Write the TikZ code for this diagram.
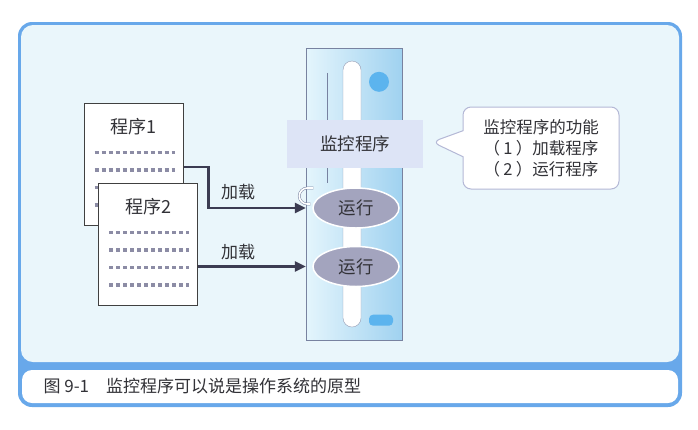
\documentclass[tikz,border=0pt]{standalone}
\usepackage{fontspec}
\setmainfont{Noto Sans CJK SC}
\usetikzlibrary{positioning,shapes.geometric,shapes.callouts,arrows.meta}
\definecolor{framecolor}{RGB}{104,168,234}
\definecolor{panelcolor}{RGB}{234,246,251}
\definecolor{rackleft}{RGB}{228,245,252}
\definecolor{rackright}{RGB}{160,210,240}
\definecolor{rackline}{RGB}{120,130,160}
\definecolor{monfill}{RGB}{221,228,246}
\definecolor{runfill}{RGB}{163,164,190}
\definecolor{dotcolor}{RGB}{140,140,165}
\definecolor{arrowcolor}{RGB}{60,60,82}
\definecolor{lampcolor}{RGB}{92,180,238}
\definecolor{textcolor}{RGB}{50,50,55}
\definecolor{calloutline}{RGB}{180,184,214}
\tikzstyle{progbox} = [rectangle, draw=black!75, fill=white, line width=1pt, minimum width=99pt, minimum height=122pt, inner sep=0pt]
\tikzstyle{monbox} = [rectangle, fill=monfill, minimum width=136pt, minimum height=48pt, text=textcolor, font=\fontsize{17.5}{20}\selectfont]
\tikzstyle{runnode} = [ellipse, draw=white, line width=1.5pt, fill=runfill, minimum width=86pt, minimum height=40pt, inner sep=0pt, text=textcolor, font=\fontsize{17.5}{20}\selectfont]
\tikzstyle{dotrow} = [dotcolor, line width=3.5pt, dash pattern=on 4pt off 3pt]
\tikzstyle{arrow} = [arrowcolor, line width=2.5pt, -{Triangle[length=11pt,width=10pt]}]
\tikzstyle{loadlabel} = [text=textcolor, font=\fontsize{17}{20}\selectfont]
\tikzstyle{title} = [anchor=north, text=textcolor, font=\fontsize{18}{20}\selectfont]

\begin{document}
\begin{tikzpicture}[x=1pt, y=-1pt]
\useasboundingbox (0,0) rectangle (698,429);

% frame and caption strip
\fill[framecolor, rounded corners=14pt] (18,22) rectangle (682,407);
\fill[panelcolor, rounded corners=12pt] (21,25) rectangle (679,362);
\fill[white, rounded corners=10pt] (22,370) rectangle (678,403);
\node (caption) [anchor=west, text=textcolor, font=\fontsize{17}{18}\selectfont] at (40,386) {图 9-1\quad 监控程序可以说是操作系统的原型};

% the machine
\node (rack) [rectangle, draw=rackline, left color=rackleft, right color=rackright, minimum width=96pt, minimum height=292pt] at (354,194) {};
\node (slot) [rectangle, rounded corners=9pt, draw=rackline!80, fill=white, minimum width=18pt, minimum height=266pt] at (352,194) {};
\draw[rackline, line width=0.8pt] ([shift={(-25,12)}]slot.north) -- ++(0,110);
\node (lamp) [circle, fill=lampcolor, minimum size=20pt, inner sep=0pt] at ([shift={(25,34)}]rack.north) {};
\node (pill) [rectangle, rounded corners=4pt, fill=lampcolor, minimum width=24pt, minimum height=11pt] at ([shift={(27,-20)}]rack.south) {};

\node (mon) [monbox] at (355,144) {监控程序};
\node (run1) [runnode] at (356,208) {运行};
\node (run2) [runnode, below=17pt of run1] {运行};
\draw[rackline, double=white, double distance=1.6pt, line width=0.5pt] ([shift={(1,-20)}]run1.west) -- ++(-6,0) arc[start angle=270, end angle=90, radius=8] -- ++(3,0);

% programs
\node (prog1) [progbox] at (133.5,164) {};
\node (title1) [title] at ([yshift=-12]prog1.north) {程序1};
\foreach \k in {0,...,3}
  \draw[dotrow] ([shift={(11,50+17.5*\k)}]prog1.north west) -- ++(80,0);

\node (prog2) [progbox] at (148,244) {};
\node (title2) [title] at ([yshift=-12]prog2.north) {程序2};
\foreach \k in {0,...,3}
  \draw[dotrow] ([shift={(11,50+17.5*\k)}]prog2.north west) -- ++(80,0);

% callout
\node (func) [rectangle callout, rounded corners=8pt, draw=calloutline, fill=white, line width=1pt, minimum width=156pt, minimum height=82pt, callout absolute pointer={(432,142)}, callout pointer width=26pt, align=center, text=textcolor, font=\fontsize{16.5}{21}\selectfont] at (541,148) {监控程序的功能\\（\hspace{0.2em}1\hspace{0.2em}）加载程序\\（\hspace{0.2em}2\hspace{0.2em}）运行程序};

% arrows
\draw [arrow] ([yshift=-3]prog1.east) -- ++(25,0) |- (rack.west |- run1.west);
\draw [arrow] (prog2.east |- run2.west) -- (rack.west |- run2.west);
\node (load1) [loadlabel] at (238,192) {加载};
\node (load2) [loadlabel] at (238,252) {加载};

\end{tikzpicture}
\end{document}
